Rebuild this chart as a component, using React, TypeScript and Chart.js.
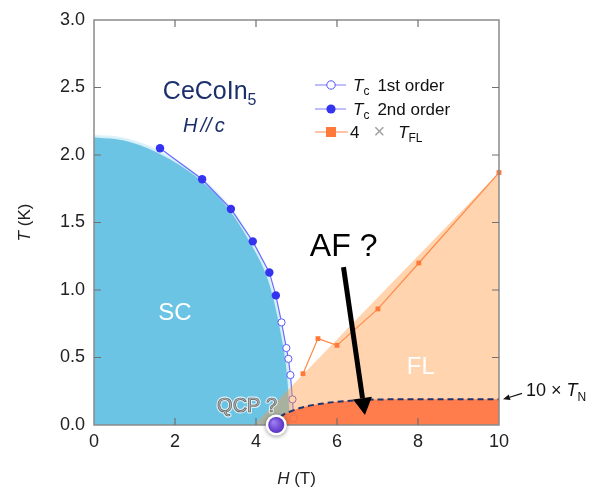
import React, { useEffect, useRef } from 'react';
import { Chart, registerables } from 'chart.js';
Chart.register(...registerables);

// ---- data ----
const xTickVals = [0, 2, 4, 6, 8, 10];
const yTickVals = [0, 0.5, 1.0, 1.5, 2.0, 2.5, 3.0];

// superconducting boundary
const scH = [0, 0.72, 1.56, 2.62, 3.37, 3.86, 4.28, 4.48, 4.68, 4.8, 4.85, 4.87];
const scT = [2.14, 2.12, 2.03, 1.83, 1.6, 1.37, 1.12, 0.92, 0.63, 0.38, 0.15, 0];

// Tc 2nd order (filled)
const tc2H = [1.63, 2.67, 3.38, 3.92, 4.33, 4.49];
const tc2T = [2.05, 1.82, 1.6, 1.36, 1.13, 0.96];

// Tc 1st order (open)
const tc1H = [4.63, 4.75, 4.8, 4.85, 4.9, 4.93];
const tc1T = [0.76, 0.57, 0.49, 0.37, 0.19, 0.05];

// 4 x T_FL
const flH = [5.16, 5.53, 6.0, 7.01, 8.02, 10];
const flT = [0.38, 0.64, 0.59, 0.86, 1.2, 1.87];

// FL region boundary
const flRegH = [3.95, 10];
const flRegT = [0, 1.87];

// 10 x T_N (AF region boundary)
const afH = [4.45, 4.6, 4.85, 5.2, 5.67, 6.0, 6.5, 7.3, 10];
const afT = [0, 0.06, 0.1, 0.135, 0.16, 0.172, 0.183, 0.19, 0.19];

// QCP
const qcpH = 4.5;
const qcpT = 0;

// AF arrow (start, tip) in data coordinates
const afArrowH = [6.16, 6.69];
const afArrowT = [1.17, 0.075];

const fam = "'Liberation Sans', Arial, Helvetica, sans-serif";
const fnt = (s: number, it = false) => `${it ? 'italic ' : ''}${s}px ${fam}`;

type Part = { t: string; s: number; i?: boolean; dy?: number; c?: string; gap?: number };

function partsWidth(ctx: CanvasRenderingContext2D, parts: Part[]) {
  let w = 0;
  for (const p of parts) {
    ctx.font = fnt(p.s, p.i);
    w += ctx.measureText(p.t).width + (p.gap || 0);
  }
  return w;
}
function drawParts(ctx: CanvasRenderingContext2D, x: number, y: number, parts: Part[]) {
  let cx = x;
  ctx.textBaseline = 'alphabetic';
  ctx.textAlign = 'left';
  for (const p of parts) {
    ctx.font = fnt(p.s, p.i);
    ctx.fillStyle = p.c || '#111';
    ctx.fillText(p.t, cx, y + (p.dy || 0));
    cx += ctx.measureText(p.t).width + (p.gap || 0);
  }
  return cx;
}
function arrow(ctx: CanvasRenderingContext2D, x1: number, y1: number, x2: number, y2: number, lw: number, hl: number, hw: number, color: string) {
  const a = Math.atan2(y2 - y1, x2 - x1);
  const bx = x2 - hl * Math.cos(a);
  const by = y2 - hl * Math.sin(a);
  ctx.strokeStyle = color;
  ctx.fillStyle = color;
  ctx.lineWidth = lw;
  ctx.beginPath();
  ctx.moveTo(x1, y1);
  ctx.lineTo(bx, by);
  ctx.stroke();
  ctx.beginPath();
  ctx.moveTo(x2, y2);
  ctx.lineTo(bx + (hw / 2) * Math.sin(a), by - (hw / 2) * Math.cos(a));
  ctx.lineTo(bx - (hw / 2) * Math.sin(a), by + (hw / 2) * Math.cos(a));
  ctx.closePath();
  ctx.fill();
}

const overlay = {
  id: 'overlay',
  afterDatasetsDraw(chart: any) {
    const ctx: CanvasRenderingContext2D = chart.ctx;
    const xs = chart.scales.x;
    const ys = chart.scales.y;
    const a = chart.chartArea;
    const X = (v: number) => xs.getPixelForValue(v);
    const Y = (v: number) => ys.getPixelForValue(v);
    ctx.save();

    // frame + inward ticks
    ctx.strokeStyle = '#8a8a8a';
    ctx.lineWidth = 1.5;
    ctx.strokeRect(a.left, a.top, a.right - a.left, a.bottom - a.top);
    ctx.lineWidth = 1.2;
    ctx.strokeStyle = '#707070';
    const tl = 7;
    ctx.beginPath();
    for (const v of xTickVals.slice(1, -1)) {
      const px = X(v);
      ctx.moveTo(px, a.bottom); ctx.lineTo(px, a.bottom - tl);
      ctx.moveTo(px, a.top); ctx.lineTo(px, a.top + tl);
    }
    for (const v of yTickVals.slice(1, -1)) {
      const py = Y(v);
      ctx.moveTo(a.left, py); ctx.lineTo(a.left + tl, py);
      ctx.moveTo(a.right, py); ctx.lineTo(a.right - tl, py);
    }
    ctx.stroke();

    // region labels
    ctx.fillStyle = '#ffffff';
    ctx.font = fnt(24);
    ctx.textAlign = 'center';
    ctx.textBaseline = 'middle';
    ctx.fillText('SC', X(2.0), Y(0.83));
    ctx.fillText('FL', X(8.07), Y(0.43));

    // CeCoIn5, H//c
    const navy = '#1b2f6c';
    drawParts(ctx, X(1.7), Y(2.48) + 9, [
      { t: 'CeCoIn', s: 25, c: navy },
      { t: '5', s: 16, c: navy, dy: 6 },
    ]);
    drawParts(ctx, X(2.2), Y(2.22) + 7, [
      { t: 'H', s: 20, i: true, c: navy, gap: 3 },
      { t: '/', s: 20, i: true, c: navy, gap: 0 },
      { t: '/', s: 20, i: true, c: navy, gap: 3 },
      { t: 'c', s: 20, i: true, c: navy },
    ]);

    // AF ?
    drawParts(ctx, X(5.33), Y(1.33) + 11, [{ t: 'AF ?', s: 32, c: '#000' }]);
    arrow(ctx, X(afArrowH[0]), Y(afArrowT[0]), X(afArrowH[1]), Y(afArrowT[1]), 5, 17, 19, '#000');

    // QCP ?
    ctx.font = fnt(20);
    ctx.textAlign = 'left';
    ctx.textBaseline = 'alphabetic';
    const qx = X(3.04), qy = Y(0.148) + 7;
    ctx.lineJoin = 'round';
    ctx.strokeStyle = 'rgba(255,255,255,0.75)';
    ctx.lineWidth = 3;
    ctx.strokeText('QCP ?', qx, qy);
    ctx.fillStyle = '#b4b4b4';
    ctx.fillText('QCP ?', qx, qy);
    ctx.strokeStyle = '#5e5e5e';
    ctx.lineWidth = 0.7;
    ctx.strokeText('QCP ?', qx, qy);

    // QCP dot
    const cx = X(qcpH), cy = Y(qcpT);
    ctx.save();
    ctx.shadowColor = 'rgba(0,0,0,0.4)';
    ctx.shadowBlur = 4;
    ctx.shadowOffsetY = 1;
    ctx.beginPath();
    ctx.arc(cx, cy, 10.5, 0, Math.PI * 2);
    ctx.fillStyle = '#ffffff';
    ctx.fill();
    ctx.restore();
    const g = ctx.createRadialGradient(cx - 3, cy - 3, 1, cx, cy, 8);
    g.addColorStop(0, '#9b7cf2');
    g.addColorStop(1, '#5b32c4');
    ctx.beginPath();
    ctx.arc(cx, cy, 8, 0, Math.PI * 2);
    ctx.fillStyle = g;
    ctx.fill();

    // 10 x T_N annotation
    const ty = Y(0.19);
    arrow(ctx, a.right + 23, ty - 6, a.right + 4, ty, 1.2, 7, 6, '#111');
    drawParts(ctx, a.right + 27, ty - 3, [
      { t: '10 × ', s: 18, c: '#111' },
      { t: 'T', s: 18, i: true, c: '#111', gap: 0 },
      { t: 'N', s: 12, c: '#111', dy: 5 },
    ]);

    // legend
    const lx0 = 315, lx1 = 346, mx = 331, tx = 353;
    const rows = [85, 109, 132];
    ctx.lineWidth = 1.2;
    ctx.strokeStyle = '#7d7dff';
    ctx.beginPath();
    ctx.moveTo(lx0, rows[0]); ctx.lineTo(lx1, rows[0]);
    ctx.moveTo(lx0, rows[1]); ctx.lineTo(lx1, rows[1]);
    ctx.stroke();
    ctx.beginPath();
    ctx.arc(mx, rows[0], 4.2, 0, Math.PI * 2);
    ctx.fillStyle = '#fff';
    ctx.fill();
    ctx.strokeStyle = '#5050ff';
    ctx.lineWidth = 1;
    ctx.stroke();
    ctx.beginPath();
    ctx.arc(mx, rows[1], 4.6, 0, Math.PI * 2);
    ctx.fillStyle = '#3434f0';
    ctx.fill();
    ctx.strokeStyle = '#ff8a50';
    ctx.lineWidth = 1.2;
    ctx.beginPath();
    ctx.moveTo(lx0, rows[2]); ctx.lineTo(lx1 + 2, rows[2]);
    ctx.stroke();
    ctx.fillStyle = '#ff7a3a';
    ctx.fillRect(mx - 5, rows[2] - 5, 10, 10);

    const ls = 17;
    drawParts(ctx, tx, rows[0] + 6, [
      { t: 'T', s: ls, i: true, gap: 0 },
      { t: 'c', s: 12, dy: 4, gap: 8 },
      { t: '1st order', s: ls },
    ]);
    drawParts(ctx, tx, rows[1] + 6, [
      { t: 'T', s: ls, i: true, gap: 0 },
      { t: 'c', s: 12, dy: 4, gap: 8 },
      { t: '2nd order', s: ls },
    ]);
    drawParts(ctx, 350, rows[2] + 6, [
      { t: '4', s: ls, gap: 14 },
      { t: '×', s: 20, c: '#a0a0a0', gap: 13 },
      { t: 'T', s: ls, i: true, gap: 0 },
      { t: 'FL', s: 12, dy: 4 },
    ]);

    // axis titles
    const tParts: Part[] = [
      { t: 'T', s: 17, i: true, c: '#222' },
      { t: ' (K)', s: 17, c: '#222' },
    ];
    ctx.save();
    ctx.translate(30, (a.top + a.bottom) / 2);
    ctx.rotate(-Math.PI / 2);
    const tw = partsWidth(ctx, tParts);
    drawParts(ctx, -tw / 2, 0, tParts);
    ctx.restore();
    const hParts: Part[] = [
      { t: 'H', s: 17, i: true, c: '#222' },
      { t: ' (T)', s: 17, c: '#222' },
    ];
    const hw = partsWidth(ctx, hParts);
    drawParts(ctx, (a.left + a.right) / 2 - hw / 2, 484, hParts);

    ctx.restore();
  },
};

const pts = (xs: number[], ys: number[]) => xs.map((x, i) => ({ x, y: ys[i] }));

export default function App() {
  const ref = useRef<HTMLCanvasElement>(null);
  useEffect(() => {
    const tc1Data = [{ x: tc2H[tc2H.length - 1], y: tc2T[tc2T.length - 1] }, ...pts(tc1H, tc1T)];
    const chart = new Chart(ref.current as HTMLCanvasElement, {
      type: 'scatter',
      data: {
        datasets: [
          {
            label: '4 x TFL',
            data: pts(flH, flT),
            showLine: true,
            borderColor: '#ff8a4a',
            borderWidth: 1.2,
            pointStyle: 'rect',
            pointRadius: 3.4,
            pointBackgroundColor: '#ff7a3a',
            pointBorderWidth: 0,
            clip: false,
            order: 1,
          } as any,
          {
            label: 'AF',
            data: pts(afH, afT),
            showLine: true,
            borderColor: '#20346e',
            borderWidth: 2,
            borderDash: [6, 4],
            pointRadius: 0,
            fill: 'origin',
            backgroundColor: 'rgba(255,112,62,0.86)',
            cubicInterpolationMode: 'monotone',
            order: 2,
          } as any,
          {
            label: 'FL',
            data: pts(flRegH, flRegT),
            showLine: true,
            borderColor: 'rgba(0,0,0,0)',
            borderWidth: 1,
            pointRadius: 0,
            fill: 'origin',
            backgroundColor: 'rgba(255,150,60,0.41)',
            order: 3,
          } as any,
          {
            label: 'Tc 2nd order',
            data: pts(tc2H, tc2T),
            showLine: true,
            borderColor: '#6b6bff',
            borderWidth: 1.2,
            pointRadius: 4.2,
            pointBackgroundColor: '#3434f0',
            pointBorderWidth: 0,
            order: 4,
          } as any,
          {
            label: 'Tc 1st order',
            data: tc1Data,
            showLine: true,
            borderColor: '#6b6bff',
            borderWidth: 1.2,
            pointRadius: tc1Data.map((_, i) => (i === 0 ? 0 : 3.6)),
            pointBackgroundColor: '#ffffff',
            pointBorderColor: '#5a5aff',
            pointBorderWidth: 1,
            order: 5,
          } as any,
          {
            label: 'SC',
            data: pts(scH, scT),
            showLine: true,
            borderColor: 'rgba(222,243,251,0.9)',
            borderWidth: 3,
            pointRadius: 0,
            fill: 'origin',
            backgroundColor: '#6cc4e4',
            cubicInterpolationMode: 'monotone',
            order: 6,
          } as any,
        ],
      },
      options: {
        animation: false,
        responsive: true,
        maintainAspectRatio: false,
        events: [],
        layout: { padding: { left: 0, right: 95, top: 20, bottom: 0 } },
        plugins: { legend: { display: false }, tooltip: { enabled: false } },
        scales: {
          x: {
            type: 'linear',
            min: 0,
            max: 10,
            grid: { display: false, drawTicks: false },
            border: { display: false },
            ticks: { font: { size: 18, family: fam }, color: '#222', padding: 6, maxRotation: 0 },
            afterBuildTicks: (s: any) => { s.ticks = xTickVals.map((v) => ({ value: v })); },
            afterFit: (s: any) => { s.height = 62; },
          },
          y: {
            type: 'linear',
            min: 0,
            max: 3,
            grid: { display: false, drawTicks: false },
            border: { display: false },
            ticks: {
              font: { size: 18, family: fam },
              color: '#222',
              padding: 9,
              callback: (v: any) => Number(v).toFixed(1),
            },
            afterBuildTicks: (s: any) => { s.ticks = yTickVals.map((v) => ({ value: v })); },
            afterFit: (s: any) => { s.width = 94; },
          },
        },
      } as any,
      plugins: [overlay],
    });
    return () => chart.destroy();
  }, []);
  return (
    <div style={{ position: 'absolute', left: 0, top: 0, width: 594, height: 487, background: '#fff' }}>
      <canvas ref={ref} />
    </div>
  );
}
